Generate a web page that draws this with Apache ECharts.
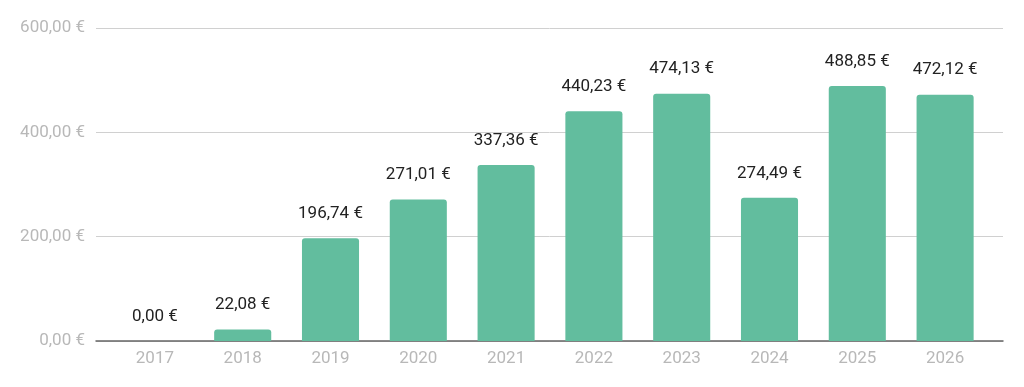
<!DOCTYPE html>
<html><head><meta charset="utf-8">
<script src="https://cdn.jsdelivr.net/npm/echarts@6/dist/echarts.min.js"></script>
<style>html,body{margin:0;padding:0;background:#fff}#c{width:1024px;height:387px}</style>
</head><body><div id="c"></div>
<script>
const categories = ['2017','2018','2019','2020','2021','2022','2023','2024','2025','2026'];
const values = [0.00, 22.08, 196.74, 271.01, 337.36, 440.23, 474.13, 274.49, 488.85, 472.12];
const yTicks = [0, 200, 400, 600];

const fmt = v => v.toFixed(2).replace('.', ',') + ' €';
const chart = echarts.init(document.getElementById('c'));
chart.setOption({
  animation: false,
  textStyle: { fontFamily: 'Roboto' },
  grid: [
    { left: 96, right: 21, top: 28, bottom: 46 },
    { left: 111, right: 35, top: 28, bottom: 46 }
  ],
  xAxis: [
    { type: 'value', gridIndex: 0, min: 0, max: 1, show: true,
      axisLine: { show: true, onZero: false, lineStyle: { color: '#666', width: 1.5 } },
      axisTick: { show: false }, axisLabel: { show: false }, splitLine: { show: false } },
    { type: 'category', gridIndex: 1, data: categories,
      axisLine: { show: false }, axisTick: { show: false },
      axisLabel: { color: '#b8b8b8', fontSize: 17, margin: 9 } }
  ],
  yAxis: [
    { type: 'value', gridIndex: 0, min: 0, max: 600, interval: 200,
      axisLine: { show: false }, axisTick: { show: false },
      axisLabel: { color: '#b8b8b8', fontSize: 17, margin: 11, formatter: v => fmt(v) },
      splitLine: { lineStyle: { color: '#d0d0d0', width: 1 } } },
    { type: 'value', gridIndex: 1, min: 0, max: 600, interval: 200, show: false }
  ],
  series: [{
    type: 'bar', xAxisIndex: 1, yAxisIndex: 1, data: values,
    barWidth: '65%',
    itemStyle: { color: '#62bd9e', borderRadius: [3, 3, 0, 0] },
    label: { show: true, position: 'top', distance: 16, color: '#222', fontSize: 17,
      formatter: p => fmt(p.value) }
  }]
});
</script></body></html>
